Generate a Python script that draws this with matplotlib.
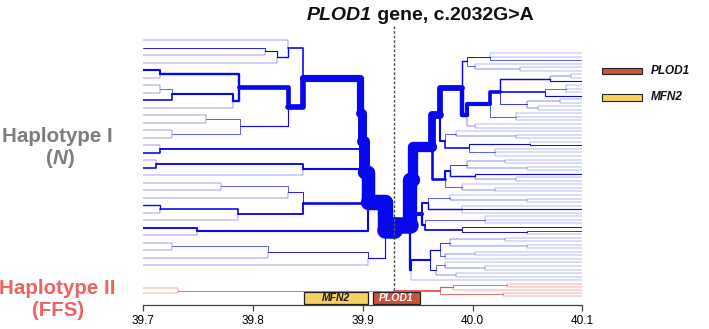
import matplotlib
matplotlib.use("Agg")
import matplotlib.pyplot as plt
from matplotlib.patches import Rectangle

# ------------------------------------------------------------------ data
X_MIN, X_MAX = 39.7, 40.1
CORE = 39.928
x_ticks = [39.7, 39.8, 39.9, 40.0, 40.1]
x_tick_labels = ["39.7", "39.8", "39.9", "40.0", "40.1"]

gene_names = ["MFN2", "PLOD1"]
gene_start = [39.846, 39.909]
gene_end = [39.905, 39.952]
gene_colors = ["#f7d160", "#c9533d"]
gene_text_colors = ["#1a1a1a", "#ffffff"]

# furcation trees: node = (split position in Mb, [children top->bottom]); leaf = number of haplotypes
# ---- haplotype I, left (upstream) side
left_top_group = (39.8455, [
    (39.8318, [1, (39.8218, [(39.8109, [3, 1]), 1])]),
    (39.8318, [
        (39.7869, [(39.7156, [8, 1]), (39.7815, [(39.7259, [(39.7156, [1, 1]), 6]), 1])]),
        (39.7879, [(39.7568, [1, 1]), (39.7259, [1, 1])]),
    ]),
])
left_group_148 = (39.7156, [1, 6])
left_group_169 = (39.8455, [(39.7120, [1, 6]), 1])
left_group_203 = (39.8455, [(39.8318, [(39.7705, [1, 1]), 1]), (39.7860, [(39.7156, [5, 1]), 1])])
left_group_231 = (39.7488, [7, 1])
left_group_258 = (39.9045, [(39.8133, [(39.7259, [1, 1]), 1]), 1])
left_tree = (39.9206, [
    (39.9051, [
        (39.9015, [
            (39.8997, [(39.8979, [left_top_group, left_group_148]), left_group_169]),
            left_group_203]),
        left_group_231]),
    left_group_258])

# ---- haplotype I, right (downstream) side
right_T = (39.995, [(40.016, [1, 1, 3]), (40.002, [1, (40.043, [1, 1])])])
right_S = (39.995, [
    (40.016, [
        (40.025, [(40.071, [(40.090, [1, 1]), 6]),
                  (40.066, [(40.085, [1, 1, 1]), 6]),
                  (40.050, [(40.080, [1, 1]), (40.060, [1, 1])])]),
        (40.040, [1, 1, 1])]),
    (40.002, [1, 1])])
right_Z = (39.975, [(39.985, [1, (40.040, [1, 1])]),
                    (39.997, [(40.052, [1, 5]), (40.020, [1, 1, 1])])])
right_Y = (39.975, [(39.9795, [(39.995, [(40.030, [1, 1]), (40.050, [1, 1])]),
                               (40.002, [6, (40.040, [1, 1])])]),
                    (39.990, [1, (40.020, [1, 1])])])
right_W = (39.954, [(39.9594, [(39.9795, [1, (40.050, [1, 1])]), (39.990, [1, 6, 1])]),
                    (39.9567, [(40.011, [1, 1, 1]), (39.990, [5, (40.050, [4, 1])])])])
right_L = (39.9612, [(39.9704, [(39.9795, [(40.0295, [1, 1]), (40.050, [1, 1])]),
                                (39.9749, [(40.002, [1, 1]), 1])]),
                     (39.9667, [(39.9749, [1, (40.011, [1, 1])]), (39.985, [1, 1])])])
right_tree = (39.9431, [
    (39.9458, [
        (39.963, [(39.970, [(39.990, [right_T, right_S]), right_Z]), right_Y]),
        right_W]),
    (39.9435, [right_L, 1])])

# ---- haplotype II (FFS)
left_red_tree = (39.732, [1, 1])
right_red_tree = (39.9704, [(39.9822, [(40.0313, [1, 1]), 1]), (40.0277, [1, 1])])

# ------------------------------------------------------------------ layout constants
W_PX, H_PX = 709, 329
FONT = "Liberation Sans"
plt.rcParams["font.family"] = [FONT, "DejaVu Sans"]

fig = plt.figure(figsize=(W_PX / 100, H_PX / 100), dpi=100)
AX_L, AX_R, AX_TOP, AX_BOT = 143.3, 582.3, 20.0, 305.0
ax = fig.add_axes([AX_L / W_PX, (H_PX - AX_BOT) / H_PX, (AX_R - AX_L) / W_PX, (AX_BOT - AX_TOP) / H_PX])
ax.set_xlim(X_MIN, X_MAX)
ax.set_ylim(AX_BOT, AX_TOP)

BLUE = "#0808ec"
RED = "#e85a5a"
ROOT_PX = 16.5
BASE_PX = 0.12
RED_SCALE_TOTAL = 45


def count_leaves(node):
    if isinstance(node, int):
        return 1
    return sum(count_leaves(k) for k in node[1])


def layout(node, leaf_ys, counter):
    if isinstance(node, int):
        y = leaf_ys[counter[0]]
        counter[0] += 1
        return {"x": None, "y": y, "n": node, "kids": []}
    x, kids = node
    ks = [layout(k, leaf_ys, counter) for k in kids]
    return {"x": x, "y": sum(k["y"] for k in ks) / len(ks), "n": sum(k["n"] for k in ks), "kids": ks}


def collect(nd, end_x, segs):
    for k in nd["kids"]:
        kx = k["x"] if k["x"] is not None else end_x
        segs.append(([kx, nd["x"], nd["x"]], [k["y"], k["y"], nd["y"]], k["n"]))
        collect(k, end_x, segs)


def build(tree, top, step, end_x):
    n = count_leaves(tree)
    ys = [top + step * i for i in range(n)]
    root = layout(tree, ys, [0])
    segs = []
    collect(root, end_x, segs)
    segs.append(([root["x"], CORE], [root["y"], root["y"]], root["n"]))
    return root, segs


def draw(segs, total, color):
    per = (ROOT_PX - BASE_PX) / total
    for xs, ys, n in sorted(segs, key=lambda s: s[2]):
        lw = (BASE_PX + per * n) * 0.72
        ax.plot(xs, ys, color=color, lw=lw, solid_capstyle="round",
                solid_joinstyle="round", zorder=2 + n / 100)


lroot, lsegs = build(left_tree, 40.0, 7.5, X_MIN)
rroot, rsegs = build(right_tree, 53.0, 3.55, X_MAX)
ltot, rtot = lroot["n"], rroot["n"]
lsegs.append(([CORE, CORE], [lroot["y"], rroot["y"]], ltot))
draw(lsegs, ltot, BLUE)
draw(rsegs, rtot, BLUE)

lred, lrsegs = build(left_red_tree, 288.0, 5.0, X_MIN)
rred, rrsegs = build(right_red_tree, 283.5, 3.0, X_MAX)
draw(lrsegs, RED_SCALE_TOTAL, RED)
draw(rrsegs, RED_SCALE_TOTAL, RED)

# core marker
ax.plot([CORE, CORE], [AX_TOP + 6, AX_BOT], color="#505050", lw=1.0, ls=(0, (2.0, 1.3)), zorder=10)

# genes
for name, s, e, c, tc in zip(gene_names, gene_start, gene_end, gene_colors, gene_text_colors):
    ax.add_patch(Rectangle((s, 292.0), e - s, 12.0, facecolor=c, edgecolor="#222222", lw=0.9, zorder=11))
    ax.text((s + e) / 2, 298.0, name, ha="center", va="center", fontsize=7.5, fontweight="bold",
            fontstyle="italic", color=tc, zorder=12)

# axis styling
for sp in ["left", "right", "top"]:
    ax.spines[sp].set_visible(False)
ax.spines["bottom"].set_color("#444444")
ax.spines["bottom"].set_linewidth(0.9)
ax.set_yticks([])
ax.set_xticks(x_ticks)
ax.set_xticklabels(x_tick_labels)
ax.tick_params(axis="x", length=4.3, width=0.9, color="#444444", labelsize=8.5, pad=3)
ax.set_facecolor("none")

renderer = fig.canvas.get_renderer()


def rich_text(x_px, y_px, pieces, size, color):
    texts, widths = [], []
    for s, style in pieces:
        t = fig.text(0, 0, s, fontsize=size, fontweight="bold", fontstyle=style, color=color,
                     ha="left", va="center")
        widths.append(t.get_window_extent(renderer=renderer).width)
        texts.append(t)
    x = x_px - sum(widths) / 2
    for t, w in zip(texts, widths):
        t.set_position((x / W_PX, 1 - y_px / H_PX))
        x += w


rich_text(420, 16, [("PLOD1", "italic"), (" gene, c.2032G>A", "normal")], 14, "#111111")
rich_text(57, 136, [("Haplotype I", "normal")], 14.8, "#7d7d7d")
rich_text(60, 158, [("(", "normal"), ("N", "italic"), (")", "normal")], 14.8, "#7d7d7d")
rich_text(57, 288, [("Haplotype II", "normal")], 14.8, "#f06262")
rich_text(58, 311, [("(FFS)", "normal")], 14.8, "#f06262")

# legend
legend_y = [71.0, 97.5]
for (name, c), ly in zip([("PLOD1", gene_colors[1]), ("MFN2", gene_colors[0])], legend_y):
    fig.add_artist(Rectangle((602 / W_PX, 1 - (ly + 3.2) / H_PX), 40 / W_PX, 6.4 / H_PX,
                             transform=fig.transFigure, facecolor=c, edgecolor="#222222", lw=0.8))
    fig.text(651 / W_PX, 1 - ly / H_PX, name, fontsize=8.5, fontweight="bold", fontstyle="italic",
             color="#111111", ha="left", va="center")

fig.savefig("out.png", dpi=100)
